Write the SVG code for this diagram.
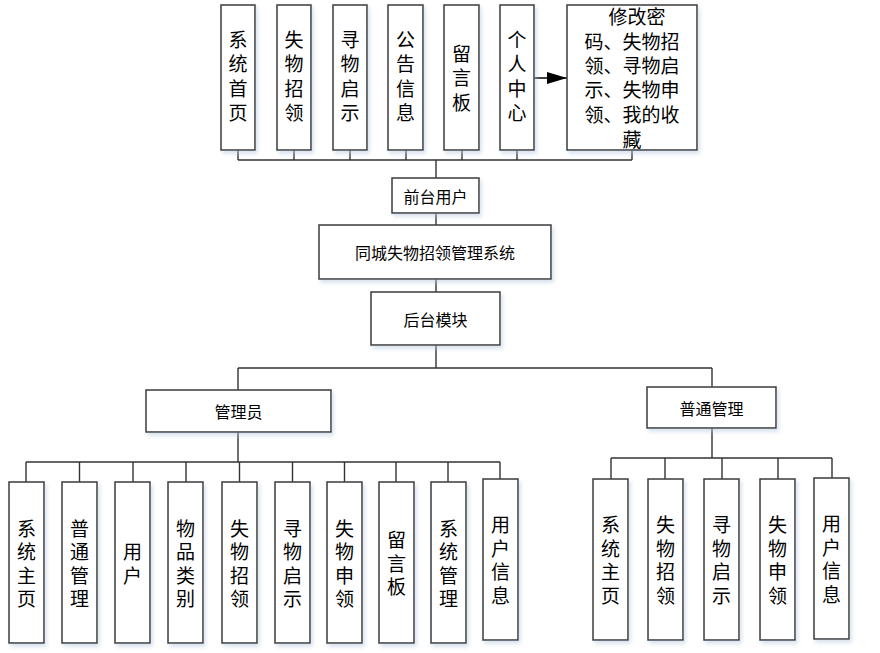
<svg xmlns="http://www.w3.org/2000/svg" width="880" height="653" viewBox="0 0 880 653">
<defs>
<filter id="sh" x="-20%" y="-20%" width="150%" height="150%">
<feDropShadow dx="2" dy="3" stdDeviation="2" flood-color="#b8c8de" flood-opacity="0.55"/>
</filter>
<marker id="arr" viewBox="0 0 20 12" refX="20" refY="6" markerWidth="20" markerHeight="12" markerUnits="userSpaceOnUse" orient="auto">
<path d="M0,0 L20,6 L0,12 Z" fill="#000"/>
</marker>
</defs>
<style>
.b{fill:#fff;stroke:#3a3a3a;stroke-width:1.5;filter:url(#sh)}
.ln{fill:none;stroke:#333;stroke-width:1.4}
.t{font-family:"Noto Sans CJK SC","Noto Sans",sans-serif;fill:#000;text-anchor:middle;dominant-baseline:central}
.v{font-size:19px}
.h{font-size:16px}
</style>
<rect width="880" height="653" fill="#fff"/>

<g id="connectors">
<path class="ln" d="M238 150V160 M294 150V160 M350 150V160 M406 150V160 M462 150V160 M517 150V160 M632 150V160 M238 160H632 M436 160V178"/>
<path class="ln" d="M436 213V225 M436 279V292 M436 345V368 M238 368H712 M238 368V390 M712 368V387"/>
<path class="ln" d="M238 432V462 M26 462H500 M26 462V482 M79.5 462V482 M133 462V482 M186 462V482 M239.5 462V482 M292.5 462V482 M344.5 462V482 M396 462V482 M448 462V482 M500 462V479"/>
<path class="ln" d="M712 428V458 M611 458H832 M611 458V479 M665 458V479 M722 458V479 M778 458V479 M832 458V478"/>
<line x1="534" y1="78" x2="567" y2="78" stroke="#000" stroke-width="1.4" marker-end="url(#arr)"/>
</g>

<g id="n-xtsy"><rect class="b" x="221" y="5" width="34" height="145"/>
<text class="t v" x="238" y="38"><tspan x="238" dy="0">系</tspan><tspan x="238" dy="24.3">统</tspan><tspan x="238" dy="24.3">首</tspan><tspan x="238" dy="24.3">页</tspan></text></g>
<g id="n-swzl"><rect class="b" x="277" y="5" width="34" height="145"/>
<text class="t v" x="294" y="38"><tspan x="294" dy="0">失</tspan><tspan x="294" dy="24.3">物</tspan><tspan x="294" dy="24.3">招</tspan><tspan x="294" dy="24.3">领</tspan></text></g>
<g id="n-xwqs"><rect class="b" x="333" y="5" width="34" height="145"/>
<text class="t v" x="350" y="38"><tspan x="350" dy="0">寻</tspan><tspan x="350" dy="24.3">物</tspan><tspan x="350" dy="24.3">启</tspan><tspan x="350" dy="24.3">示</tspan></text></g>
<g id="n-ggxx"><rect class="b" x="388" y="5" width="35" height="145"/>
<text class="t v" x="405.5" y="38"><tspan x="405.5" dy="0">公</tspan><tspan x="405.5" dy="24.3">告</tspan><tspan x="405.5" dy="24.3">信</tspan><tspan x="405.5" dy="24.3">息</tspan></text></g>
<g id="n-lyb"><rect class="b" x="444" y="5" width="35" height="145"/>
<text class="t v" x="461.5" y="52"><tspan x="461.5" dy="0">留</tspan><tspan x="461.5" dy="24.3">言</tspan><tspan x="461.5" dy="24.3">板</tspan></text></g>
<g id="n-grzx"><rect class="b" x="500" y="5" width="34" height="145"/>
<text class="t v" x="517" y="38"><tspan x="517" dy="0">个</tspan><tspan x="517" dy="24.3">人</tspan><tspan x="517" dy="24.3">中</tspan><tspan x="517" dy="24.3">心</tspan></text></g>
<g id="n-grzx-detail"><rect class="b" x="567" y="5" width="130" height="145"/>
<text class="t v" x="637" y="15">修改密</text>
<text class="t v" x="632" y="40">码、失物招</text>
<text class="t v" x="632" y="64">领、寻物启</text>
<text class="t v" x="632" y="88.5">示、失物申</text>
<text class="t v" x="632" y="113">领、我的收</text>
<text class="t v" x="632" y="138">藏</text></g>

<g id="n-qtyh"><rect class="b" x="392" y="178" width="87" height="35"/>
<text class="t h" x="435.5" y="195.5">前台用户</text></g>
<g id="n-system"><rect class="b" x="319" y="225" width="232" height="54"/>
<text class="t h" x="435" y="252">同城失物招领管理系统</text></g>
<g id="n-htmk"><rect class="b" x="371" y="292" width="129" height="53"/>
<text class="t h" x="435.5" y="318.5">后台模块</text></g>
<g id="n-gly"><rect class="b" x="146" y="390" width="185" height="42"/>
<text class="t h" x="238.5" y="411">管理员</text></g>
<g id="n-ptgl"><rect class="b" x="647" y="387" width="129" height="41"/>
<text class="t h" x="711.5" y="407.5">普通管理</text></g>

<g id="a-xtzy"><rect class="b" x="9" y="482" width="35" height="161"/>
<text class="t v" x="26.5" y="526.5"><tspan x="26.5" dy="0">系</tspan><tspan x="26.5" dy="23.6">统</tspan><tspan x="26.5" dy="23.6">主</tspan><tspan x="26.5" dy="23.6">页</tspan></text></g>
<g id="a-ptgl"><rect class="b" x="62" y="482" width="35" height="161"/>
<text class="t v" x="79.5" y="526.5"><tspan x="79.5" dy="0">普</tspan><tspan x="79.5" dy="23.6">通</tspan><tspan x="79.5" dy="23.6">管</tspan><tspan x="79.5" dy="23.6">理</tspan></text></g>
<g id="a-yh"><rect class="b" x="115" y="482" width="35" height="161"/>
<text class="t v" x="132.5" y="550"><tspan x="132.5" dy="0">用</tspan><tspan x="132.5" dy="23.6">户</tspan></text></g>
<g id="a-wplb"><rect class="b" x="168" y="482" width="35" height="161"/>
<text class="t v" x="185.5" y="526.5"><tspan x="185.5" dy="0">物</tspan><tspan x="185.5" dy="23.6">品</tspan><tspan x="185.5" dy="23.6">类</tspan><tspan x="185.5" dy="23.6">别</tspan></text></g>
<g id="a-swzl"><rect class="b" x="222" y="482" width="35" height="161"/>
<text class="t v" x="239.5" y="526.5"><tspan x="239.5" dy="0">失</tspan><tspan x="239.5" dy="23.6">物</tspan><tspan x="239.5" dy="23.6">招</tspan><tspan x="239.5" dy="23.6">领</tspan></text></g>
<g id="a-xwqs"><rect class="b" x="275" y="482" width="35" height="161"/>
<text class="t v" x="292.5" y="526.5"><tspan x="292.5" dy="0">寻</tspan><tspan x="292.5" dy="23.6">物</tspan><tspan x="292.5" dy="23.6">启</tspan><tspan x="292.5" dy="23.6">示</tspan></text></g>
<g id="a-swsl"><rect class="b" x="327" y="482" width="35" height="161"/>
<text class="t v" x="344.5" y="526.5"><tspan x="344.5" dy="0">失</tspan><tspan x="344.5" dy="23.6">物</tspan><tspan x="344.5" dy="23.6">申</tspan><tspan x="344.5" dy="23.6">领</tspan></text></g>
<g id="a-lyb"><rect class="b" x="379" y="482" width="35" height="161"/>
<text class="t v" x="396.5" y="538"><tspan x="396.5" dy="0">留</tspan><tspan x="396.5" dy="23.6">言</tspan><tspan x="396.5" dy="23.6">板</tspan></text></g>
<g id="a-xtgl"><rect class="b" x="431" y="482" width="35" height="161"/>
<text class="t v" x="448.5" y="526.5"><tspan x="448.5" dy="0">系</tspan><tspan x="448.5" dy="23.6">统</tspan><tspan x="448.5" dy="23.6">管</tspan><tspan x="448.5" dy="23.6">理</tspan></text></g>
<g id="a-yhxx"><rect class="b" x="483" y="479" width="35" height="161"/>
<text class="t v" x="500.5" y="523"><tspan x="500.5" dy="0">用</tspan><tspan x="500.5" dy="23.6">户</tspan><tspan x="500.5" dy="23.6">信</tspan><tspan x="500.5" dy="23.6">息</tspan></text></g>

<g id="p-xtzy"><rect class="b" x="593" y="479" width="35" height="161"/>
<text class="t v" x="610.5" y="523"><tspan x="610.5" dy="0">系</tspan><tspan x="610.5" dy="23.6">统</tspan><tspan x="610.5" dy="23.6">主</tspan><tspan x="610.5" dy="23.6">页</tspan></text></g>
<g id="p-swzl"><rect class="b" x="648" y="479" width="35" height="161"/>
<text class="t v" x="665.5" y="523"><tspan x="665.5" dy="0">失</tspan><tspan x="665.5" dy="23.6">物</tspan><tspan x="665.5" dy="23.6">招</tspan><tspan x="665.5" dy="23.6">领</tspan></text></g>
<g id="p-xwqs"><rect class="b" x="704" y="479" width="35" height="161"/>
<text class="t v" x="721.5" y="523"><tspan x="721.5" dy="0">寻</tspan><tspan x="721.5" dy="23.6">物</tspan><tspan x="721.5" dy="23.6">启</tspan><tspan x="721.5" dy="23.6">示</tspan></text></g>
<g id="p-swsl"><rect class="b" x="760" y="479" width="35" height="161"/>
<text class="t v" x="777.5" y="523"><tspan x="777.5" dy="0">失</tspan><tspan x="777.5" dy="23.6">物</tspan><tspan x="777.5" dy="23.6">申</tspan><tspan x="777.5" dy="23.6">领</tspan></text></g>
<g id="p-yhxx"><rect class="b" x="814" y="478" width="35" height="161"/>
<text class="t v" x="831.5" y="522"><tspan x="831.5" dy="0">用</tspan><tspan x="831.5" dy="23.6">户</tspan><tspan x="831.5" dy="23.6">信</tspan><tspan x="831.5" dy="23.6">息</tspan></text></g>
</svg>
